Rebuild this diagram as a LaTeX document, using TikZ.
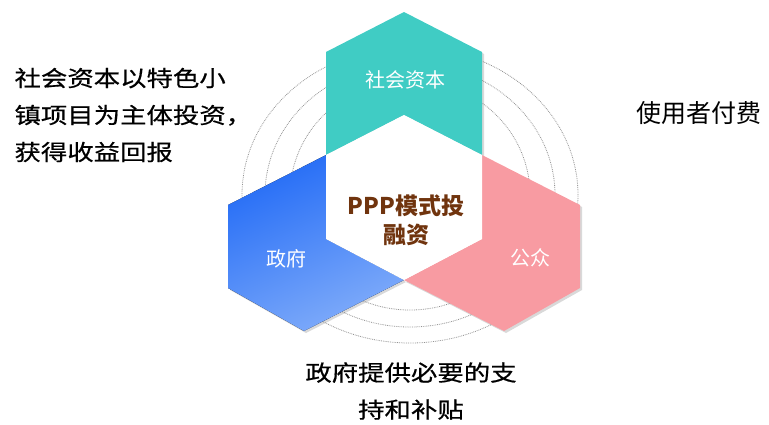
\documentclass[tikz,border=0pt]{standalone}
\usepackage{fontspec}
\setmainfont{Noto Sans CJK SC}
\newfontfamily\cjkwide[FakeStretch=1.2,FakeBold=0.6]{Noto Sans CJK SC}
\usepackage{xcolor}
\usetikzlibrary{shadows}

\definecolor{tealhex}{RGB}{64,204,196}
\definecolor{bluetop}{RGB}{36,108,246}
\definecolor{bluebot}{RGB}{128,172,250}
\definecolor{pinkhex}{RGB}{248,155,162}
\definecolor{brownmid}{RGB}{112,52,14}

\tikzset{
  ring/.style={gray!85, densely dotted, line width=0.8pt},
  hexshadow/.style={drop shadow={opacity=0.3, shadow xshift=2pt, shadow yshift=-2pt}},
  hexlabel/.style={white, font=\fontsize{20}{24}\selectfont},
  sidetext/.style={black, font=\cjkwide\fontsize{22}{37}\selectfont}
}

\begin{document}
\begin{tikzpicture}[x=1pt,y=-1pt]
\useasboundingbox (0,0) rectangle (769,424);

% dotted rings behind the hexagons
\draw[ring] (410,195) ellipse [x radius=168pt, y radius=148pt];
\draw[ring] (410,195) ellipse [x radius=145pt, y radius=132pt];
\draw[ring] (410,195) ellipse [x radius=120pt, y radius=115pt];

\fill[tealhex, hexshadow] (404,12) -- (482,52) -- (482,155) -- (404,115) -- (326,155) -- (326,52) -- cycle;
\fill[hexshadow, top color=bluetop, bottom color=bluebot, shading angle=25]
  (326,155) -- (228,205) -- (228,288) -- (304,331) -- (404,280) -- (326,239) -- cycle;
\fill[pinkhex, hexshadow] (482,155) -- (580,205) -- (580,288) -- (504,331) -- (404,280) -- (482,239) -- cycle;
\fill[white] (404,115) -- (482,155) -- (482,239) -- (404,280) -- (326,239) -- (326,155) -- cycle;

\node[hexlabel] (capital) at (405,80) {社会资本};
\node[hexlabel] (govt) at (286,259) {政府};
\node[hexlabel] (public) at (530,258) {公众};

\node[brownmid, align=center, font=\bfseries\fontsize{23}{29}\selectfont] (ppp) at (406,220) {PPP模式投\\融资};

\node[sidetext, anchor=west, align=left] (invest) at (11,115) {社会资本以特色小\\镇项目为主体投资，\\获得收益回报};
\node[black, font=\fontsize{25}{30}\selectfont] (users) at (699,113) {使用者付费};
\node[sidetext, align=center] (support) at (411,391) {政府提供必要的支\\持和补贴};

\end{tikzpicture}
\end{document}
